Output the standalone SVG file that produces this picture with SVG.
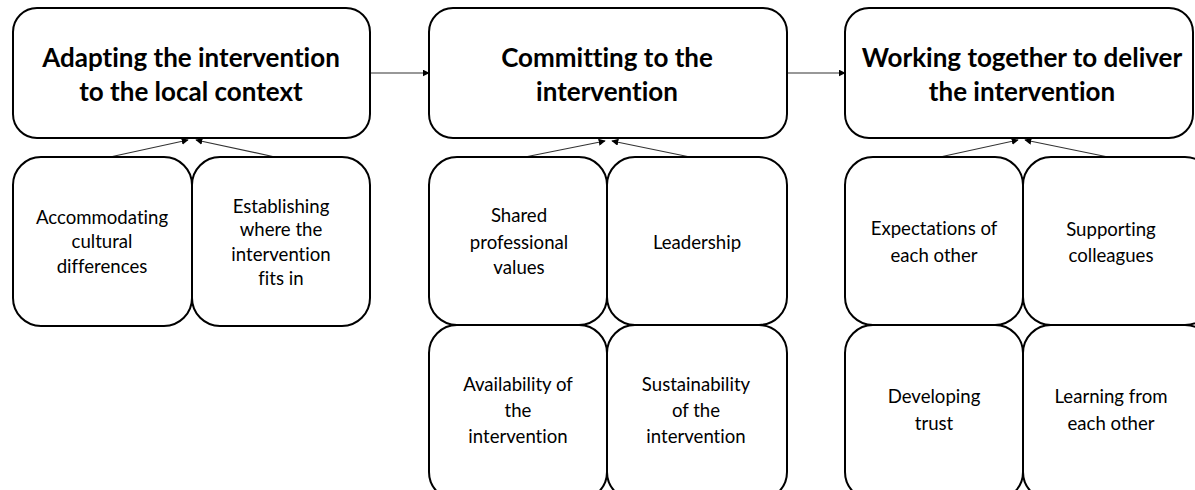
<svg xmlns="http://www.w3.org/2000/svg" width="1195" height="490" viewBox="0 0 1195 490">
  <defs>
    <marker id="arrow" viewBox="0 0 10 10" refX="9" refY="5" markerWidth="7" markerHeight="7" markerUnits="userSpaceOnUse" orient="auto">
      <path d="M0,0 L10,5 L0,10 z" fill="#000"/>
    </marker>
    <style>
      .main { fill: #fff; stroke: #000; stroke-width: 2; }
      .sub { fill: #fff; stroke: #000; stroke-width: 2; }
      text { font-variant-ligatures: none; }
      .title { font-family: Lato, "Liberation Sans", sans-serif; font-weight: bold; font-size: 26px; fill: #000; text-anchor: middle; }
      .label { font-family: Lato, "Liberation Sans", sans-serif; font-size: 18.6px; fill: #000; text-anchor: middle; }
      .conn { stroke: #333; stroke-width: 1.2; fill: none; marker-end: url(#arrow); }
    </style>
  </defs>
  <rect width="1195" height="490" fill="#fff"/>

  <!-- Connectors -->
  <g id="connectors">
    <line class="conn" x1="371" y1="73" x2="429" y2="73"/>
    <line class="conn" x1="787" y1="73" x2="845" y2="73"/>
    <line class="conn" x1="110" y1="157" x2="188" y2="140"/>
    <line class="conn" x1="275" y1="157" x2="196" y2="140"/>
    <line class="conn" x1="525" y1="157" x2="605" y2="141"/>
    <line class="conn" x1="690" y1="157" x2="612" y2="141"/>
    <line class="conn" x1="940" y1="157" x2="1018" y2="140"/>
    <line class="conn" x1="1113" y1="158" x2="1025" y2="140"/>
  </g>

  <!-- Stage 1 -->
  <g id="stage-adapting">
    <rect class="main" x="13" y="8" width="357" height="130" rx="24"/>
    <text class="title" x="191" y="67">Adapting the intervention</text>
    <text class="title" x="191" y="101">to the local context</text>
  </g>
  <g id="accommodating">
    <rect class="sub" x="13" y="157" width="179" height="169" rx="28"/>
    <text class="label" x="102" y="224">Accommodating</text>
    <text class="label" x="102" y="248">cultural</text>
    <text class="label" x="102" y="273">differences</text>
  </g>
  <g id="establishing">
    <rect class="sub" x="192" y="157" width="178" height="169" rx="28"/>
    <text class="label" x="281" y="213">Establishing</text>
    <text class="label" x="281" y="236">where the</text>
    <text class="label" x="281" y="261">intervention</text>
    <text class="label" x="281" y="285">fits in</text>
  </g>

  <!-- Stage 2 -->
  <g id="stage-committing">
    <rect class="main" x="429" y="8" width="358" height="130" rx="24"/>
    <text class="title" x="607" y="67">Committing to the</text>
    <text class="title" x="607" y="101">intervention</text>
  </g>
  <g id="shared-values">
    <rect class="sub" x="429" y="157" width="178" height="168" rx="28"/>
    <text class="label" x="519" y="222">Shared</text>
    <text class="label" x="519" y="249">professional</text>
    <text class="label" x="519" y="274">values</text>
  </g>
  <g id="leadership">
    <rect class="sub" x="607" y="157" width="180" height="168" rx="28"/>
    <text class="label" x="697" y="249">Leadership</text>
  </g>
  <g id="availability">
    <rect class="sub" x="429" y="325" width="178" height="175" rx="28"/>
    <text class="label" x="518" y="391">Availability of</text>
    <text class="label" x="518" y="417">the</text>
    <text class="label" x="518" y="443">intervention</text>
  </g>
  <g id="sustainability">
    <rect class="sub" x="607" y="325" width="180" height="175" rx="28"/>
    <text class="label" x="696" y="391">Sustainability</text>
    <text class="label" x="696" y="417">of the</text>
    <text class="label" x="696" y="443">intervention</text>
  </g>

  <!-- Stage 3 -->
  <g id="stage-working">
    <rect class="main" x="845" y="8" width="348" height="130" rx="24"/>
    <text class="title" x="1022" y="67">Working together to deliver</text>
    <text class="title" x="1022" y="101">the intervention</text>
  </g>
  <g id="expectations">
    <rect class="sub" x="845" y="157" width="178" height="168" rx="28"/>
    <text class="label" x="934" y="235">Expectations of</text>
    <text class="label" x="934" y="262">each other</text>
  </g>
  <g id="supporting">
    <rect class="sub" x="1023" y="157" width="190" height="168" rx="28"/>
    <text class="label" x="1111" y="236">Supporting</text>
    <text class="label" x="1111" y="262">colleagues</text>
  </g>
  <g id="trust">
    <rect class="sub" x="845" y="325" width="178" height="175" rx="28"/>
    <text class="label" x="934" y="403">Developing</text>
    <text class="label" x="934" y="430">trust</text>
  </g>
  <g id="learning">
    <rect class="sub" x="1023" y="325" width="190" height="175" rx="28"/>
    <text class="label" x="1111" y="403">Learning from</text>
    <text class="label" x="1111" y="430">each other</text>
  </g>
</svg>
